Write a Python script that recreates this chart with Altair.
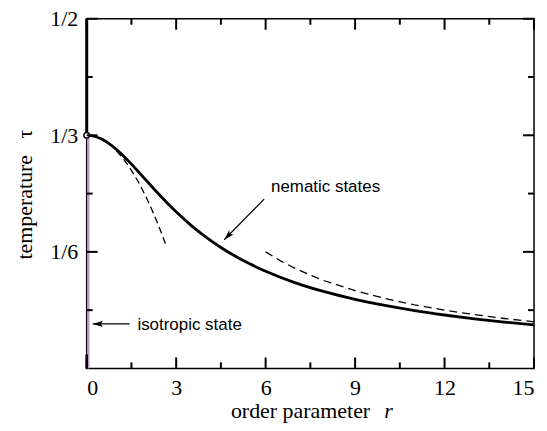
import altair as alt
import pandas as pd

# ---- data ----
r_nem = [0.0, 0.25, 0.5, 0.75, 1.0, 1.25, 1.5, 1.75, 2.0, 2.25, 2.5, 2.75, 3.0, 3.5,
         4.0, 4.5, 5.0, 5.5, 6.0, 7.0, 8.0, 9.0, 10.0, 11.0, 12.0, 13.0, 14.0, 15.0]
tau_nem = [0.3333, 0.3320, 0.3279, 0.3215, 0.3130, 0.3031, 0.2921, 0.2805, 0.2687,
           0.2569, 0.2454, 0.2344, 0.2239, 0.2046, 0.1877, 0.1729, 0.1600, 0.1488,
           0.1389, 0.1224, 0.1094, 0.0988, 0.0900, 0.0826, 0.0764, 0.0710, 0.0663, 0.0622]
r_small = [1.0, 1.25, 1.5, 1.75, 2.0, 2.25, 2.5, 2.65]
tau_small = [0.3111, 0.2986, 0.2833, 0.2653, 0.2444, 0.2208, 0.1944, 0.1773]
r_large = [6.0, 6.5, 7.0, 7.5, 8.0, 9.0, 10.0, 11.0, 12.0, 13.0, 14.0, 15.0]
tau_large = [0.1667, 0.1538, 0.1429, 0.1333, 0.1250, 0.1111, 0.1000, 0.0909,
             0.0833, 0.0769, 0.0714, 0.0667]

iso_stable = [1/3, 1/2]
iso_unstable = [0.0, 1/3]
iso_stub = [0.0, 0.02]
critical_r = [0.0]
critical_tau = [1/3]

X_MIN, X_MAX = 0.0, 15.0
Y_MIN, Y_MAX = 0.0, 0.5
x_major = [0, 3, 6, 9, 12, 15]
x_minor = [1.5, 4.5, 7.5, 10.5, 13.5]
y_major = [1/6, 1/3, 1/2]
y_minor = [1/12, 1/4, 5/12]
y_labels = ["1/6", "1/3", "1/2"]

nem_arrow_r = [5.95, 4.61]
nem_arrow_tau = [0.242, 0.184]
iso_arrow_r = [1.44, 0.2]
iso_arrow_tau = [0.0637, 0.0637]

W, H = 449, 351
SERIF = "Liberation Serif"
SANS = "Liberation Sans"
MAJOR_LEN, MINOR_LEN = 11, 6

label_expr = "".join(
    f"abs(datum.value - {v}) < 1e-6 ? '{lab}' : " for v, lab in zip(y_major, y_labels)
) + "''"

xs = alt.Scale(domain=[X_MIN, X_MAX], nice=False, zero=False)
ys = alt.Scale(domain=[Y_MIN, Y_MAX], nice=False, zero=False)

x_main = alt.Axis(values=x_major, ticks=False, tickSize=0, domain=False, grid=False,
                  labelFont=SERIF, labelFontSize=22, labelColor="black", labelPadding=9,
                  title="")
y_main = alt.Axis(values=y_major, ticks=False, tickSize=0, domain=False, grid=False,
                  labelExpr=label_expr, labelFont=SERIF, labelFontSize=22,
                  labelColor="black", labelPadding=9,
                  title="temperature\u00a0\u00a0\u00a0\u03c4", titleFont=SERIF, titleFontSize=22,
                  titleFontWeight="normal", titleColor="black", titleAngle=270,
                  titleX=-62, titleY=176, titleAlign="center", titleBaseline="middle")


def X(f="r"):
    return alt.X(f"{f}:Q", scale=xs, axis=x_main)


def Y(f="tau"):
    return alt.Y(f"{f}:Q", scale=ys, axis=y_main)


nem = pd.DataFrame({"r": r_nem, "tau": tau_nem})
small = pd.DataFrame({"r": r_small, "tau": tau_small})
large = pd.DataFrame({"r": r_large, "tau": tau_large})


def iso_df(seg):
    return pd.DataFrame({"r": [0.0], "tau": [seg[0]], "tau2": [seg[1]]})


layers = []

layers.append(alt.Chart(iso_df(iso_unstable)).mark_rule(
    color="#bf97c3", strokeWidth=2.4, xOffset=1.6).encode(x=X(), y=Y(), y2="tau2:Q"))
layers.append(alt.Chart(iso_df(iso_stub)).mark_rule(
    color="black", strokeWidth=2.5).encode(x=X(), y=Y(), y2="tau2:Q"))
layers.append(alt.Chart(iso_df(iso_stable)).mark_rule(
    color="black", strokeWidth=3).encode(x=X(), y=Y(), y2="tau2:Q"))

layers.append(alt.Chart(small).mark_line(
    color="black", strokeWidth=1.3, strokeDash=[7, 4]).encode(x=X(), y=Y()))
layers.append(alt.Chart(large).mark_line(
    color="black", strokeWidth=1.3, strokeDash=[8, 5]).encode(x=X(), y=Y()))
layers.append(alt.Chart(nem).mark_line(
    color="black", strokeWidth=2.8, interpolate="monotone").encode(x=X(), y=Y()))
layers.append(alt.Chart(pd.DataFrame({"r": critical_r, "tau": critical_tau})).mark_point(
    shape="circle", size=32, filled=True, fill="white", stroke="black",
    strokeWidth=1.4, opacity=1).encode(x=X(), y=Y()))

# inward ticks on four sides, one rule per tick with explicit start/end columns
vt = {"r": [], "tau": [], "tau2": []}   # vertical ticks (bottom/top)
for vals, L in [(x_major, MAJOR_LEN), (x_minor, MINOR_LEN)]:
    dy = L / H * (Y_MAX - Y_MIN)
    for v in vals:
        vt["r"] += [float(v), float(v)]
        vt["tau"] += [Y_MIN, Y_MAX]
        vt["tau2"] += [Y_MIN + dy, Y_MAX - dy]
ht = {"tau": [], "r": [], "r2": []}     # horizontal ticks (left/right)
for vals, L in [(y_major, MAJOR_LEN), (y_minor, MINOR_LEN)]:
    dx = L / W * (X_MAX - X_MIN)
    for v in vals:
        ht["tau"] += [float(v), float(v)]
        ht["r"] += [X_MIN, X_MAX]
        ht["r2"] += [X_MIN + dx, X_MAX - dx]

layers.append(alt.Chart(pd.DataFrame(vt)).mark_rule(color="#000000", strokeWidth=2).encode(
    x=X(), y=Y(), y2="tau2:Q"))
layers.append(alt.Chart(pd.DataFrame(ht)).mark_rule(color="#000000", strokeWidth=2).encode(
    y=Y(), x=X(), x2="r2:Q"))

# arrows
arrow_shape = "M0,0L-1,-0.3L-0.8,0L-1,0.3Z"
for rr, tt, ang in [(nem_arrow_r, nem_arrow_tau, 134.6), (iso_arrow_r, iso_arrow_tau, 180)]:
    adf = pd.DataFrame({"r": rr, "tau": tt, "o": [0, 1]})
    layers.append(alt.Chart(adf).mark_line(color="black", strokeWidth=1.2).encode(
        x=X(), y=Y(), order="o:Q"))
    layers.append(alt.Chart(adf.iloc[[1]]).mark_point(
        shape=arrow_shape, size=420, filled=True, color="black", angle=ang,
        opacity=1).encode(x=X(), y=Y()))

layers.append(alt.Chart(pd.DataFrame({"r": [6.18], "tau": [0.2597], "t": ["nematic states"]}))
              .mark_text(align="left", baseline="middle", font=SANS, fontSize=17, color="black")
              .encode(x=X(), y=Y(), text="t:N"))
layers.append(alt.Chart(pd.DataFrame({"r": [1.70], "tau": [0.0627], "t": ["isotropic state"]}))
              .mark_text(align="left", baseline="middle", font=SANS, fontSize=17, color="black")
              .encode(x=X(), y=Y(), text="t:N"))

layers.append(alt.Chart(pd.DataFrame({"r": [7.17], "t": ["order parameter"]}))
              .mark_text(align="center", baseline="middle", font=SERIF, fontSize=22, color="black")
              .encode(x=X(), y=alt.value(394), text="t:N"))
layers.append(alt.Chart(pd.DataFrame({"r": [10.12], "t": ["r"]}))
              .mark_text(align="center", baseline="middle", font=SERIF, fontSize=22,
                         fontStyle="italic", color="black")
              .encode(x=X(), y=alt.value(394), text="t:N"))

chart = alt.layer(*layers).properties(
    width=W, height=H,
    autosize=alt.AutoSizeParams(type="none"),
    padding={"left": 79, "top": 10, "right": 5, "bottom": 55},
    background="white",
).configure_view(stroke="black", strokeWidth=1.5)

chart.save("out.html", embed_options={"renderer": "svg", "actions": False})
